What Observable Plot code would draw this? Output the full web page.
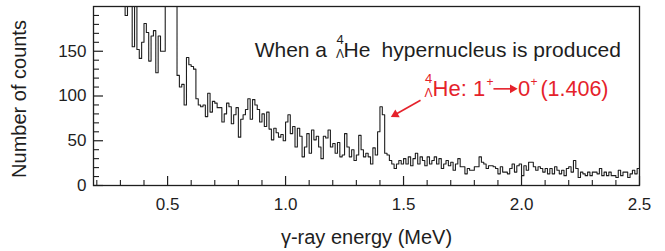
<!DOCTYPE html>
<html>
<head>
<meta charset="utf-8">
<script src="https://cdn.jsdelivr.net/npm/d3@7"></script>
<script src="https://cdn.jsdelivr.net/npm/@observablehq/plot@0.6"></script>
<style>
  html, body { margin: 0; padding: 0; background: #fff; }
  #chart svg { display: block; }
</style>
</head>
<body>
<div id="chart"></div>
<script>
// Histogram: bin starts at binStart, width binWidth (MeV); counts per bin (values > 200 are off-scale)
const binStart = 0.30;
const binWidth = 0.01;
const counts = [
  250, 250, 190, 250, 250, 155, 250, 152, 142, 160,   // 0.30-0.39
  181, 171, 139, 167, 173, 126, 167, 150, 150, 250,   // 0.40-0.49
  250, 250, 250, 250, 123, 110, 113,  90, 143, 135,   // 0.50-0.59
  133, 130,  97,  90,  88,  90,  77, 103,  82,  94,   // 0.60-0.69
   92,  87,  87,  71,  80,  92,  88,  69,  79,  87,   // 0.70-0.79
   54,  74,  79,  85,  97,  74,  96,  90,  85,  71,   // 0.80-0.89
   80,  66,  82,  63,  51,  64,  59,  54,  57,  50,   // 0.90-0.99
   71,  79,  58,  66,  43,  64,  55,  32,  43,  58,   // 1.00-1.09
   36,  62,  51,  55,  43,  30,  55,  53,  62,  43,   // 1.10-1.19
   47,  36,  48,  32,  34,  58,  43,  32,  40,  28,   // 1.20-1.29
   34,  56,  40,  32,  36,  32,  24,  42,  34,  60,   // 1.30-1.39
   88,  79,  36,  34,  28,  24,  19,  24,  28,  24,   // 1.40-1.49
   30,  24,  32,  22,  30,  36,  24,  32,  28,  22,   // 1.50-1.59
   32,  24,  28,  32,  24,  30,  19,  24,  28,  22,   // 1.60-1.69
   26,  17,  24,  30,  21,  21,  13,  19,  17,  17,   // 1.70-1.79
   21,  21,  32,  26,  24,  19,  22,  22,  21,  19,   // 1.80-1.89
   13,  21,  15,  15,  13,  19,  24,  15,  22,  24,   // 1.90-1.99
   11,  22,  17,  26,  26,  21,  17,  21,  19,  15,   // 2.00-2.09
   19,  13,  19,  13,  21,  17,  13,  17,  11,  19,   // 2.10-2.19
   21,  15,  28,  19,   9,  15,  13,  11,  15,  11,   // 2.20-2.29
   15,  15,  13,  19,  11,  15,  11,  15,  11,  11,   // 2.30-2.39
    9,  17,  11,  15,  15,   9,  13,  17,  13,  19    // 2.40-2.49
];

const xTicks = [0.5, 1.0, 1.5, 2.0, 2.5];
const xMinorTicks = [0.2, 0.3, 0.4, 0.6, 0.7, 0.8, 0.9, 1.1, 1.2, 1.3, 1.4, 1.6, 1.7, 1.8, 1.9, 2.1, 2.2, 2.3, 2.4];
const yTicks = [0, 50, 100, 150];
const yMinorTicks = [10, 20, 30, 40, 60, 70, 80, 90, 110, 120, 130, 140, 160, 170, 180, 190];

const xLabel = "γ-ray energy (MeV)";
const yLabel = "Number of counts";

// Annotation pieces (x in MeV, y in counts)
const noteBlack = [
  {x: 0.869, y: 143.8, text: "When a", size: 21, style: "normal"},
  {x: 1.216, y: 158.1, text: "4", size: 13, style: "normal"},
  {x: 1.214, y: 143.0, text: "Λ", size: 12, style: "italic"},
  {x: 1.246, y: 143.8, text: "He", size: 21, style: "normal"},
  {x: 1.407, y: 143.8, text: "hypernucleus is produced", size: 21, style: "normal"}
];
const noteRed = [
  {x: 1.591, y: 114.2, text: "4", size: 13, style: "normal"},
  {x: 1.589, y: 98.6, text: "Λ", size: 12, style: "italic"},
  {x: 1.623, y: 99.8, text: "He: 1", size: 22, style: "normal"},
  {x: 1.852, y: 111.7, text: "+", size: 12, style: "normal"},
  {x: 1.985, y: 99.8, text: "0", size: 22, style: "normal"},
  {x: 2.038, y: 111.7, text: "+", size: 12, style: "normal"},
  {x: 2.080, y: 99.8, text: "(1.406)", size: 21.5, style: "normal"}
];
const arrowLines = [
  {x1: 1.572, y1: 95.3, x2: 1.465, y2: 79.3},
  {x1: 1.881, y1: 108.0, x2: 1.962, y2: 108.0}
];
const arrowHeads = [
  {x: 1.465, y: 79.3, angle: 240.6},
  {x: 1.962, y: 108.0, angle: 90}
];

const red = "#e5222b";
const ink = "#1e1e1e";

const hist = counts.map((c, i) => ({e: +(binStart + i * binWidth).toFixed(3), c}));
hist.push({e: +(binStart + counts.length * binWidth).toFixed(3), c: counts[counts.length - 1]});

const fmt1 = d3.format(".1f");

const chart = Plot.plot({
  width: 665,
  height: 251,
  marginLeft: 93,
  marginRight: 26,
  marginTop: 6,
  marginBottom: 66,
  style: {fontFamily: "'Liberation Sans', Arial, Helvetica, sans-serif", color: ink, background: "#fff"},
  x: {domain: [0.186, 2.5]},
  y: {domain: [0, 200]},
  marks: [
    Plot.lineY(hist, {x: "e", y: "c", curve: "step-after", stroke: ink, strokeWidth: 1.1, clip: true}),
    Plot.frame({stroke: ink, strokeWidth: 1.3}),
    // x axis: labels, major & minor inward ticks
    Plot.axisX(xTicks, {anchor: "bottom", tickSize: 0, tickPadding: 12, tickFormat: fmt1, fontSize: 17, label: null}),
    Plot.axisX(xTicks, {anchor: "bottom", tickSize: -9, tickFormat: () => "", label: null, strokeWidth: 1.2}),
    Plot.axisX(xMinorTicks, {anchor: "bottom", tickSize: -5, tickFormat: () => "", label: null, strokeWidth: 1.1}),
    // y axis
    Plot.axisY(yTicks, {anchor: "left", tickSize: 0, tickPadding: 7, fontSize: 17, label: null}),
    Plot.axisY(yTicks, {anchor: "left", tickSize: -10, tickFormat: () => "", label: null, strokeWidth: 1.2}),
    Plot.axisY(yMinorTicks, {anchor: "left", tickSize: -6, tickFormat: () => "", label: null, strokeWidth: 1.1}),
    // axis titles
    Plot.text([xLabel], {frameAnchor: "bottom", dy: 58, lineAnchor: "bottom", textAnchor: "middle", fontSize: 20, fill: ink}),
    Plot.text([yLabel], {frameAnchor: "left", dx: -68, dy: 3, rotate: -90, lineAnchor: "bottom", textAnchor: "middle", fontSize: 20, fill: ink}),
    // annotations
    Plot.text(noteBlack, {x: "x", y: "y", text: "text", fontSize: d => d.size, fontStyle: d => d.style, textAnchor: "start", lineAnchor: "bottom", fill: ink}),
    Plot.text(noteRed, {x: "x", y: "y", text: "text", fontSize: d => d.size, fontStyle: d => d.style, textAnchor: "start", lineAnchor: "bottom", fill: red}),
    Plot.link(arrowLines, {x1: "x1", y1: "y1", x2: "x2", y2: "y2", stroke: red, strokeWidth: 1.6}),
    Plot.dot(arrowHeads, {x: "x", y: "y", symbol: "triangle", r: 3.3, rotate: "angle", fill: red, stroke: "none"})
  ]
});

document.getElementById("chart").append(chart);
</script>
</body>
</html>
